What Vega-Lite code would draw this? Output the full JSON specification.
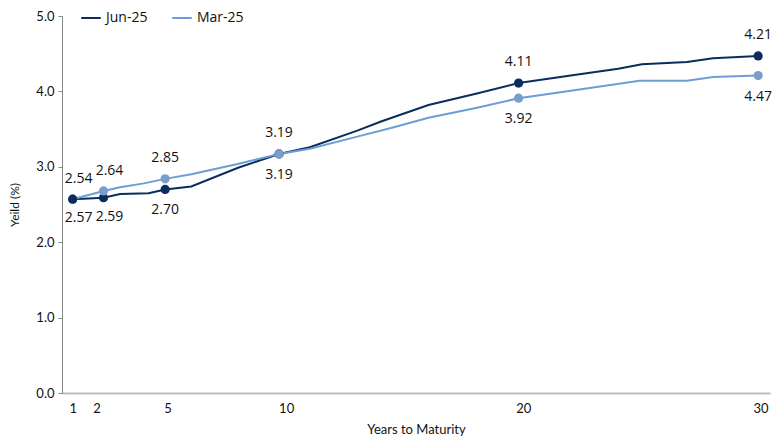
{
  "$schema": "https://vega.github.io/schema/vega-lite/v6.json",
  "autosize": {"type": "none"},
  "width": 708,
  "height": 377,
  "padding": {"left": 62, "top": 16, "right": 10, "bottom": 47},
  "background": "white",
  "config": {
    "view": {"stroke": null},
    "font": "Lato",
    "axis": {"grid": false, "labelColor": "#111", "titleColor": "#111", "titleFontWeight": "normal"}
  },
  "datasets": {
    "curve": [
      {"maturity": 1, "yield": 2.57, "series": "Jun-25"},
      {"maturity": 2.3, "yield": 2.59, "series": "Jun-25"},
      {"maturity": 3, "yield": 2.64, "series": "Jun-25"},
      {"maturity": 4.2, "yield": 2.65, "series": "Jun-25"},
      {"maturity": 4.9, "yield": 2.70, "series": "Jun-25"},
      {"maturity": 6, "yield": 2.74, "series": "Jun-25"},
      {"maturity": 8, "yield": 2.99, "series": "Jun-25"},
      {"maturity": 9.7, "yield": 3.17, "series": "Jun-25"},
      {"maturity": 11, "yield": 3.26, "series": "Jun-25"},
      {"maturity": 13, "yield": 3.48, "series": "Jun-25"},
      {"maturity": 14, "yield": 3.60, "series": "Jun-25"},
      {"maturity": 16, "yield": 3.82, "series": "Jun-25"},
      {"maturity": 18, "yield": 3.97, "series": "Jun-25"},
      {"maturity": 19.8, "yield": 4.11, "series": "Jun-25"},
      {"maturity": 22, "yield": 4.21, "series": "Jun-25"},
      {"maturity": 24, "yield": 4.30, "series": "Jun-25"},
      {"maturity": 25, "yield": 4.36, "series": "Jun-25"},
      {"maturity": 26.9, "yield": 4.39, "series": "Jun-25"},
      {"maturity": 28, "yield": 4.44, "series": "Jun-25"},
      {"maturity": 29.9, "yield": 4.47, "series": "Jun-25"},
      {"maturity": 1, "yield": 2.57, "series": "Mar-25"},
      {"maturity": 2.3, "yield": 2.68, "series": "Mar-25"},
      {"maturity": 3, "yield": 2.73, "series": "Mar-25"},
      {"maturity": 4, "yield": 2.78, "series": "Mar-25"},
      {"maturity": 4.9, "yield": 2.84, "series": "Mar-25"},
      {"maturity": 6, "yield": 2.90, "series": "Mar-25"},
      {"maturity": 8, "yield": 3.04, "series": "Mar-25"},
      {"maturity": 9.7, "yield": 3.17, "series": "Mar-25"},
      {"maturity": 11, "yield": 3.24, "series": "Mar-25"},
      {"maturity": 13, "yield": 3.40, "series": "Mar-25"},
      {"maturity": 14.5, "yield": 3.52, "series": "Mar-25"},
      {"maturity": 16, "yield": 3.65, "series": "Mar-25"},
      {"maturity": 18, "yield": 3.78, "series": "Mar-25"},
      {"maturity": 19.8, "yield": 3.91, "series": "Mar-25"},
      {"maturity": 22, "yield": 4.01, "series": "Mar-25"},
      {"maturity": 24.9, "yield": 4.14, "series": "Mar-25"},
      {"maturity": 26.9, "yield": 4.14, "series": "Mar-25"},
      {"maturity": 28, "yield": 4.19, "series": "Mar-25"},
      {"maturity": 29.9, "yield": 4.21, "series": "Mar-25"}
    ],
    "marks": [
      {"maturity": 1, "yield": 2.57, "series": "Mar-25", "label": "2.54", "upper": true},
      {"maturity": 1, "yield": 2.57, "series": "Jun-25", "label": "2.57", "upper": false},
      {"maturity": 2.3, "yield": 2.59, "series": "Jun-25", "label": "2.59", "upper": false},
      {"maturity": 4.9, "yield": 2.70, "series": "Jun-25", "label": "2.70", "upper": false},
      {"maturity": 9.7, "yield": 3.17, "series": "Jun-25", "label": "3.19", "upper": false},
      {"maturity": 19.8, "yield": 4.11, "series": "Jun-25", "label": "4.11", "upper": true},
      {"maturity": 29.9, "yield": 4.47, "series": "Jun-25", "label": "4.21", "upper": true},
      {"maturity": 2.3, "yield": 2.68, "series": "Mar-25", "label": "2.64", "upper": true},
      {"maturity": 4.9, "yield": 2.84, "series": "Mar-25", "label": "2.85", "upper": true},
      {"maturity": 9.7, "yield": 3.17, "series": "Mar-25", "label": "3.19", "upper": true},
      {"maturity": 19.8, "yield": 3.91, "series": "Mar-25", "label": "3.92", "upper": false},
      {"maturity": 29.9, "yield": 4.21, "series": "Mar-25", "label": "4.47", "upper": false}
    ]
  },
  "encoding": {
    "x": {
      "field": "maturity",
      "type": "quantitative",
      "scale": {"domain": [0.55, 30.4], "nice": false, "zero": false},
      "axis": {
        "values": [1, 2, 5, 10, 20, 30],
        "title": "Years to Maturity",
        "titleFontSize": 13,
        "titlePadding": 8,
        "labelFontSize": 13,
        "labelPadding": 9,
        "ticks": false,
        "domainColor": "#bdbdbd",
        "domainWidth": 2
      }
    },
    "y": {
      "field": "yield",
      "type": "quantitative",
      "scale": {"domain": [0, 5], "nice": false},
      "axis": {
        "values": [0, 1, 2, 3, 4, 5],
        "format": ".1f",
        "title": "Yeild (%)",
        "titleFontSize": 12,
        "titlePadding": 14,
        "labelFontSize": 13,
        "labelPadding": 4,
        "tickSize": 4,
        "tickColor": "#888",
        "domainColor": "#888"
      }
    }
  },
  "layer": [
    {
      "data": {"name": "curve"},
      "mark": {"type": "line", "strokeWidth": 2},
      "encoding": {
        "color": {
          "field": "series",
          "type": "nominal",
          "scale": {"domain": ["Jun-25", "Mar-25"], "range": ["#0b2d5e", "#6b9fd3"]},
          "legend": {
            "title": null,
            "orient": "none",
            "legendX": 18,
            "legendY": -9,
            "direction": "horizontal",
            "symbolType": "stroke",
            "symbolSize": 380,
            "symbolStrokeWidth": 2,
            "labelFontSize": 14,
            "labelFont": "Open Sans",
            "labelColor": "#111",
            "columnPadding": 20
          }
        }
      }
    },
    {
      "data": {"name": "marks"},
      "mark": {"type": "point", "filled": true, "size": 85, "opacity": 1},
      "encoding": {
        "fill": {
          "field": "series",
          "type": "nominal",
          "scale": {"domain": ["Jun-25", "Mar-25"], "range": ["#0b2d5e", "#7b9dcb"]},
          "legend": null
        }
      }
    },
    {
      "data": {"name": "marks"},
      "transform": [{"filter": "datum.upper && datum.maturity > 3"}],
      "mark": {"type": "text", "dy": -21, "fontSize": 14, "font": "Open Sans", "color": "#111", "baseline": "middle"},
      "encoding": {"text": {"field": "label"}}
    },
    {
      "data": {"name": "marks"},
      "transform": [{"filter": "!datum.upper && datum.maturity > 3"}],
      "mark": {"type": "text", "dy": 21, "fontSize": 14, "font": "Open Sans", "color": "#111", "baseline": "middle"},
      "encoding": {"text": {"field": "label"}}
    },
    {
      "data": {"name": "marks"},
      "transform": [{"filter": "datum.upper && datum.maturity < 3"}],
      "mark": {"type": "text", "dx": 6, "dy": -20, "fontSize": 14, "font": "Open Sans", "color": "#111", "baseline": "middle"},
      "encoding": {"text": {"field": "label"}}
    },
    {
      "data": {"name": "marks"},
      "transform": [{"filter": "!datum.upper && datum.maturity < 3"}],
      "mark": {"type": "text", "dx": 6, "dy": 19, "fontSize": 14, "font": "Open Sans", "color": "#111", "baseline": "middle"},
      "encoding": {"text": {"field": "label"}}
    }
  ]
}
